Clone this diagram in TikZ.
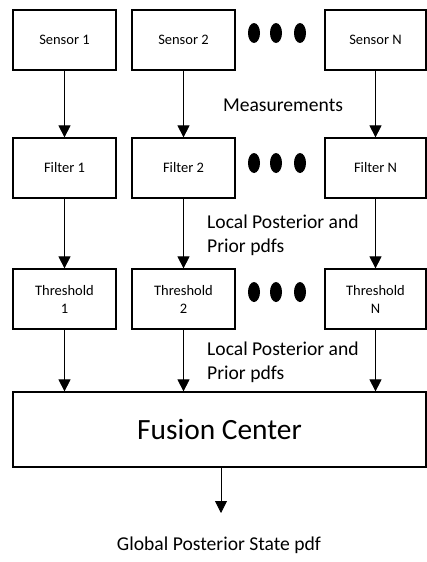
\documentclass[tikz,border=0pt]{standalone}
\usepackage{fontspec}
\setmainfont{Carlito}
\usetikzlibrary{arrows.meta}

\begin{document}
\begin{tikzpicture}[x=1pt, y=-1pt, >={Triangle[width=12pt,length=12pt]},
  block/.style={draw, line width=1.2pt, minimum width=103pt, minimum height=60pt,
    inner sep=0pt, align=center, font=\fontsize{14.5}{18}\selectfont},
  flow/.style={->, line width=0.8pt},
  lbl/.style={align=left, inner sep=0pt, font=\fontsize{19.6}{24}\selectfont}]
  \useasboundingbox (0,0) rectangle (427,562);

  % Sensors
  \node[block] (S1) at (64.5,40) {Sensor 1};
  \node[block] (S2) at (183.5,40) {Sensor 2};
  \node[block, minimum width=101pt] (SN) at (375.5,40) {Sensor N};

  % Filters
  \node[block] (F1) at (64.5,168) {Filter 1};
  \node[block] (F2) at (183.5,168) {Filter 2};
  \node[block, minimum width=101pt] (FN) at (375.5,168) {Filter N};

  % Thresholds
  \node[block] (T1) at (64.5,299) {Threshold\\1};
  \node[block] (T2) at (183.5,299) {Threshold\\2};
  \node[block, minimum width=101pt] (TN) at (375.5,299) {Threshold\\N};

  % dots between columns
  \foreach \y in {33,163,292}
    \foreach \x in {254,276,300}
      \fill (\x,\y) ellipse (6 and 10);

  % Fusion center
  \node[block, minimum width=413pt, minimum height=75pt,
    font=\fontsize{29.4}{35}\selectfont] (FC) at (219.5,429.5) {Fusion Center};

  \foreach \n in {1,2,N} {
    \draw[flow] (S\n) -- (F\n);
    \draw[flow] (F\n) -- (T\n);
    \draw[flow] (T\n) -- (T\n |- FC.north);
  }

  % labels
  \node[lbl] (meas) at (283,105) {Measurements};
  \node[lbl, anchor=west] (lp1) at (207,235.5) {Local Posterior and\\Prior pdfs};
  \node[lbl, anchor=west] (lp2) at (207,362.5) {Local Posterior and\\Prior pdfs};

  % output
  \coordinate (out) at (221,513);
  \draw[flow] (FC.south -| out) -- (out);
  \node[lbl] (gp) at (219,545) {Global Posterior State pdf};
\end{tikzpicture}
\end{document}
